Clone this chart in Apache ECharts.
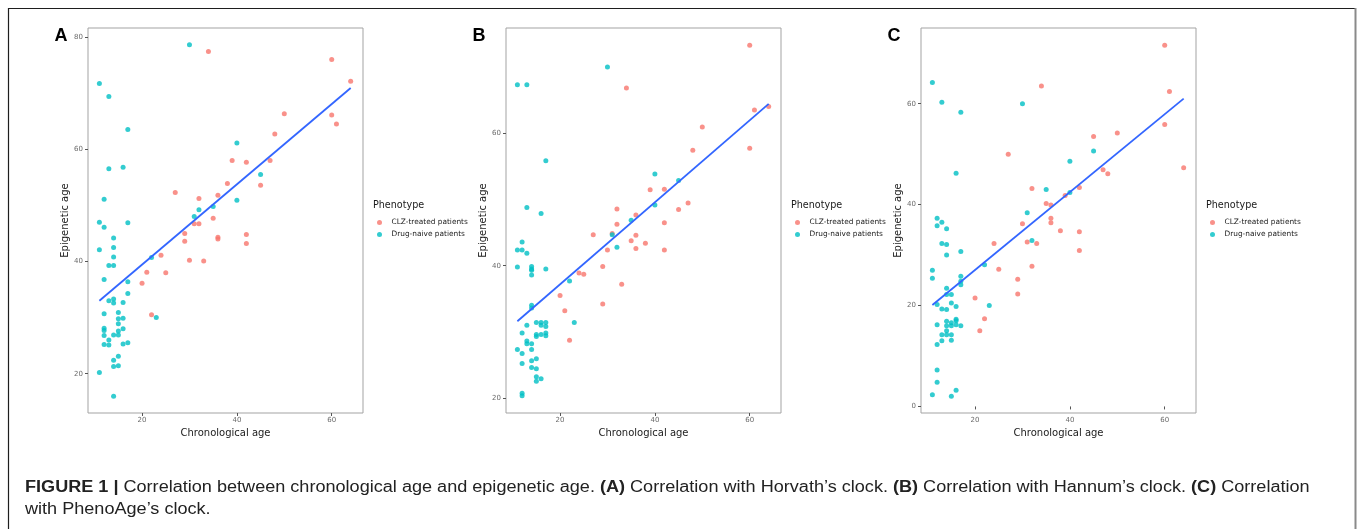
<!DOCTYPE html>
<html>
<head>
<meta charset="utf-8">
<script src="https://cdn.jsdelivr.net/npm/echarts@6/dist/echarts.min.js"></script>
<style>
  html, body { margin: 0; padding: 0; background: #ffffff; }
  #chart { width: 1357px; height: 529px; }
</style>
</head>
<body>
<div id="chart"></div>
<script>
// Series names and shared tick labels
const CLZ = 'CLZ-treated patients';
const NAIVE = 'Drug-naive patients';
const panelLetters = ['A', 'B', 'C'];
const xTicks = [20, 40, 60];
const yTicksA = [20, 40, 60, 80];
const yTicksB = [20, 40, 60];
const yTicksC = [0, 20, 40, 60];
const xRange = [8.6, 66.6];
const yRangeA = [13.0, 81.6];
const yRangeB = [17.7, 76.0];
const yRangeC = [-1.3, 75.0];

// (A) Horvath's clock
const horvathClzAge = [34, 60, 64, 60, 61, 50, 48, 39, 42, 47, 38, 45, 27, 32, 36, 35, 31, 32, 29, 36, 36, 42, 42, 29, 24, 30, 33, 21, 25, 20, 22];
const horvathClzEpi = [77.4, 76.0, 72.1, 66.1, 64.5, 66.3, 62.7, 58.0, 57.7, 58.0, 53.9, 53.6, 52.3, 51.2, 51.8, 47.7, 46.7, 46.7, 45.0, 44.3, 44.0, 44.8, 43.2, 43.6, 41.1, 40.2, 40.1, 38.1, 38.0, 36.1, 30.5];
const horvathNaiveAge = [11, 13, 17, 13, 16, 12, 11, 17, 30, 40, 45, 40, 35, 32, 31, 12, 14, 14, 11, 14, 13, 14, 12, 17, 17, 13, 14, 14, 16, 12, 15, 15, 16, 15, 12, 12, 16, 15, 14, 15, 12, 13, 12, 13, 17, 16, 15, 14, 14, 15, 11, 14, 22, 23];
const horvathNaiveEpi = [71.7, 69.4, 63.5, 56.5, 56.8, 51.1, 47.0, 46.9, 78.6, 61.1, 55.5, 50.9, 49.8, 49.2, 48.0, 46.1, 44.2, 42.5, 42.1, 40.8, 39.3, 39.3, 36.8, 36.4, 34.3, 33.0, 33.3, 32.6, 32.7, 30.7, 30.9, 29.8, 29.9, 28.9, 28.1, 27.7, 28.0, 27.6, 26.9, 26.9, 26.8, 26.0, 25.2, 25.1, 25.5, 25.3, 23.1, 22.4, 21.3, 21.4, 20.2, 16.0, 40.7, 30.0];
const horvathFitAge = [11, 64];
const horvathFitEpi = [33.0, 70.9];

// (B) Hannum's clock
const hannumClzAge = [60, 34, 64, 61, 50, 48, 60, 39, 42, 47, 45, 32, 36, 32, 42, 27, 36, 35, 30, 36, 38, 42, 29, 24, 25, 33, 20, 29, 21, 22, 31];
const hannumClzEpi = [73.4, 66.9, 64.1, 63.6, 61.0, 57.5, 57.8, 51.5, 51.6, 49.5, 48.5, 48.6, 47.7, 46.3, 46.5, 44.7, 44.6, 43.8, 42.4, 42.6, 43.4, 42.4, 39.9, 38.9, 38.7, 37.2, 35.5, 34.2, 33.2, 28.7, 44.9];
const hannumNaiveAge = [11, 13, 30, 17, 40, 45, 40, 13, 16, 35, 12, 11, 12, 13, 11, 14, 14, 14, 14, 17, 22, 31, 32, 14, 14, 15, 16, 17, 16, 17, 13, 23, 12, 15, 15, 16, 17, 17, 13, 13, 14, 11, 12, 14, 12, 14, 15, 14, 15, 15, 16, 15, 12, 12];
const hannumNaiveEpi = [67.4, 67.4, 70.1, 55.9, 53.9, 52.9, 49.2, 48.8, 47.9, 46.9, 43.6, 42.4, 42.4, 41.9, 39.8, 39.9, 39.5, 39.3, 38.6, 39.5, 37.7, 44.7, 42.8, 34.0, 33.6, 31.4, 31.4, 31.4, 31.0, 30.8, 31.0, 31.4, 29.8, 29.6, 29.3, 29.6, 29.8, 29.4, 28.6, 28.2, 28.2, 27.3, 26.7, 27.3, 25.2, 25.6, 25.9, 24.6, 24.4, 23.2, 22.9, 22.5, 20.7, 20.3];
const hannumFitAge = [11, 64];
const hannumFitEpi = [31.6, 64.5];

// (C) PhenoAge's clock
const phenoClzAge = [60, 34, 61, 60, 50, 45, 27, 64, 47, 48, 32, 42, 39, 35, 36, 36, 30, 36, 24, 31, 33, 38, 42, 42, 32, 25, 29, 29, 20, 22, 21];
const phenoClzEpi = [71.6, 63.5, 62.4, 55.9, 54.2, 53.5, 50.0, 47.3, 46.9, 46.1, 43.2, 43.4, 41.8, 40.2, 39.9, 37.3, 36.2, 36.4, 32.3, 32.6, 32.3, 34.8, 34.6, 30.9, 27.8, 27.2, 25.2, 22.3, 21.5, 17.4, 15.0];
const phenoNaiveAge = [11, 13, 17, 16, 30, 45, 40, 35, 40, 31, 12, 13, 12, 14, 13, 14, 14, 17, 32, 11, 11, 17, 17, 17, 22, 14, 14, 15, 12, 15, 16, 23, 13, 14, 14, 15, 16, 16, 12, 14, 15, 16, 17, 14, 14, 13, 15, 13, 15, 12, 12, 12, 11, 16, 15];
const phenoNaiveEpi = [64.2, 60.3, 58.3, 46.2, 60.0, 50.6, 48.6, 43.0, 42.4, 38.4, 37.3, 36.5, 35.8, 35.2, 32.3, 32.1, 30.0, 30.7, 32.9, 27.0, 25.4, 25.8, 24.8, 24.1, 28.1, 23.4, 22.2, 22.2, 20.2, 20.5, 19.8, 20.0, 19.3, 19.2, 16.9, 16.6, 17.3, 17.0, 16.2, 16.0, 16.0, 16.2, 16.0, 15.0, 14.2, 14.2, 14.2, 13.0, 13.1, 12.3, 7.2, 4.8, 2.3, 3.2, 2.0];
const phenoFitAge = [11, 64];
const phenoFitEpi = [20.1, 61.0];

const zip = (xs, ys) => xs.map((x, i) => [x, ys[i]]);

const panels = [
  { clz: zip(horvathClzAge, horvathClzEpi), naive: zip(horvathNaiveAge, horvathNaiveEpi), fit: zip(horvathFitAge, horvathFitEpi), yTicks: yTicksA, yRange: yRangeA },
  { clz: zip(hannumClzAge, hannumClzEpi), naive: zip(hannumNaiveAge, hannumNaiveEpi), fit: zip(hannumFitAge, hannumFitEpi), yTicks: yTicksB, yRange: yRangeB },
  { clz: zip(phenoClzAge, phenoClzEpi), naive: zip(phenoNaiveAge, phenoNaiveEpi), fit: zip(phenoFitAge, phenoFitEpi), yTicks: yTicksC, yRange: yRangeC }
];

// Layout of the three plot panels
const gridLeft = [88, 506, 921];
const gridTop = 28;
const gridW = 275;
const gridH = 385;

const RED = '#F8766D';
const TEAL = '#00BFC4';
const FIT = '#3366FF';
const FONT = 'DejaVu Sans';
const tickColor = '#6b6b6b';

const grids = [], xAxes = [], yAxes = [], series = [], legends = [], graphics = [];

panels.forEach((p, i) => {
  grids.push({
    left: gridLeft[i], top: gridTop, width: gridW, height: gridH,
    show: true, borderColor: '#a3a3a3', borderWidth: 1, backgroundColor: '#ffffff'
  });
  xAxes.push({
    type: 'value', gridIndex: i, min: xRange[0], max: xRange[1],
    name: 'Chronological age', nameLocation: 'middle', nameGap: 13,
    nameTextStyle: { fontFamily: FONT, fontSize: 10, color: '#1a1a1a' },
    axisLine: { show: false },
    axisTick: { show: true, length: 3, customValues: xTicks, lineStyle: { color: '#555555', width: 1 } },
    axisLabel: { customValues: xTicks, margin: 4, fontFamily: FONT, fontSize: 7, color: tickColor },
    splitLine: { show: false }
  });
  yAxes.push({
    type: 'value', gridIndex: i, min: p.yRange[0], max: p.yRange[1],
    name: 'Epigenetic age', nameLocation: 'middle', nameGap: 15,
    nameTextStyle: { fontFamily: FONT, fontSize: 10, color: '#1a1a1a' },
    axisLine: { show: false },
    axisTick: { show: true, length: 3, customValues: p.yTicks, lineStyle: { color: '#555555', width: 1 } },
    axisLabel: { customValues: p.yTicks, margin: 5, fontFamily: FONT, fontSize: 7, color: tickColor },
    splitLine: { show: false }
  });
  series.push({
    type: 'scatter', name: CLZ, xAxisIndex: i, yAxisIndex: i,
    data: p.clz, symbol: 'circle', symbolSize: 5,
    itemStyle: { color: RED }, silent: true, z: 2
  });
  series.push({
    type: 'scatter', name: NAIVE, xAxisIndex: i, yAxisIndex: i,
    data: p.naive, symbol: 'circle', symbolSize: 5,
    itemStyle: { color: TEAL }, silent: true, z: 3
  });
  series.push({
    type: 'line', name: 'fit', xAxisIndex: i, yAxisIndex: i,
    data: p.fit, showSymbol: false, symbol: 'none',
    lineStyle: { color: FIT, width: 1.8 }, silent: true, z: 4, animation: false
  });
  const legendX = gridLeft[i] + gridW + 10;
  legends.push({
    data: [CLZ, NAIVE], orient: 'vertical', left: legendX + 4, top: 219,
    icon: 'circle', itemWidth: 14, itemHeight: 5, itemGap: 5, padding: 0,
    selectedMode: false,
    textStyle: { fontFamily: FONT, fontSize: 7.4, color: '#1a1a1a' }
  });
  graphics.push({
    type: 'text', left: legendX, top: 200,
    style: { text: 'Phenotype', font: '9.6px "DejaVu Sans"', fill: '#1a1a1a' }
  });
  graphics.push({
    type: 'text', x: gridLeft[i] - 27, y: 36,
    style: { text: panelLetters[i], font: 'bold 18px "Liberation Sans"', fill: '#000000',
             align: 'center', verticalAlign: 'middle' }
  });
});

// Figure frame
graphics.push({ type: 'line', shape: { x1: 8, y1: 8.5, x2: 1355, y2: 8.5 }, style: { stroke: '#1e1e1e', lineWidth: 1.2 } });
graphics.push({ type: 'line', shape: { x1: 8.5, y1: 8, x2: 8.5, y2: 529 }, style: { stroke: '#1e1e1e', lineWidth: 1.2 } });
graphics.push({ type: 'line', shape: { x1: 1355.5, y1: 8, x2: 1355.5, y2: 529 }, style: { stroke: '#8a8a8a', lineWidth: 2 } });

// Caption (set slightly wide, as in the journal layout)
graphics.push({
  type: 'text', x: 25, y: 477, scaleX: 1.13, scaleY: 1,
  style: {
    text: '{b|FIGURE 1 |} Correlation between chronological age and epigenetic age. {b|(A)} Correlation with Horvath’s clock. {b|(B)} Correlation with Hannum’s clock. {b|(C)} Correlation\nwith PhenoAge’s clock.',
    font: '16px "Liberation Sans"', fill: '#222222', lineHeight: 22,
    rich: { b: { fontFamily: 'Liberation Sans', fontWeight: 'bold', fontSize: 16, fill: '#222222', lineHeight: 22 } }
  }
});

const chart = echarts.init(document.getElementById('chart'), null, { renderer: 'canvas' });
chart.setOption({
  animation: false,
  backgroundColor: '#ffffff',
  grid: grids,
  xAxis: xAxes,
  yAxis: yAxes,
  legend: legends,
  series: series,
  graphic: graphics
});
</script>
</body>
</html>
